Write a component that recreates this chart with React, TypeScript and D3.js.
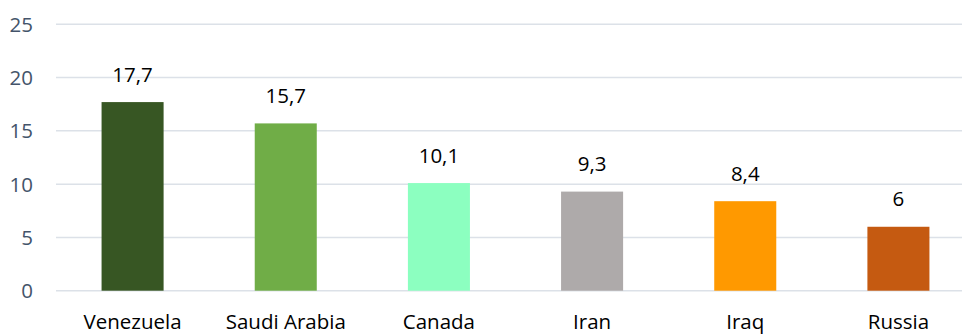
import React from "react";
import * as d3 from "d3";

const countries = ["Venezuela", "Saudi Arabia", "Canada", "Iran", "Iraq", "Russia"];
const reserves = [17.7, 15.7, 10.1, 9.3, 8.4, 6];
const barColors = ["#375623", "#70AD47", "#8CFFC0", "#AEAAAA", "#FF9900", "#C55A11"];
const yTicks = [0, 5, 10, 15, 20, 25];

const W = 962;
const H = 334;
const FONT = "'Open Sans', 'Noto Sans', sans-serif";
const FS = 20.5;

const fmt = (v: number) => String(v).replace(".", ",");

export default function App() {
  const x = d3.scaleBand<string>().domain(countries).range([56, 975]).paddingInner(0.595).paddingOuter(0.2975);
  const y = d3.scaleLinear().domain([0, 25]).range([290.7, 24.3]);

  return (
    <svg
      width={W}
      height={H}
      style={{ position: "absolute", left: 0, top: 0, background: "#fff" }}
      fontFamily={FONT}
    >
      {yTicks.map((t) => (
        <g key={t}>
          <line x1={56} x2={W} y1={y(t)} y2={y(t)} stroke="#DCE1E8" strokeWidth={1.5} />
          <text x={33} y={y(t) + 7.5} textAnchor="end" fontSize={FS} fill="#44546A">
            {t}
          </text>
        </g>
      ))}
      {countries.map((c, i) => {
        const bx = x(c)!;
        const bw = x.bandwidth();
        const cx = bx + bw / 2;
        return (
          <g key={c}>
            <rect x={bx} y={y(reserves[i])} width={bw} height={y(0) - y(reserves[i])} fill={barColors[i]} />
            <text x={cx} y={y(reserves[i]) - 20.5} textAnchor="middle" fontSize={FS} fill="#000">
              {fmt(reserves[i])}
            </text>
            <text x={cx} y={329.3} textAnchor="middle" fontSize={FS} fill="#000">
              {c}
            </text>
          </g>
        );
      })}
    </svg>
  );
}
